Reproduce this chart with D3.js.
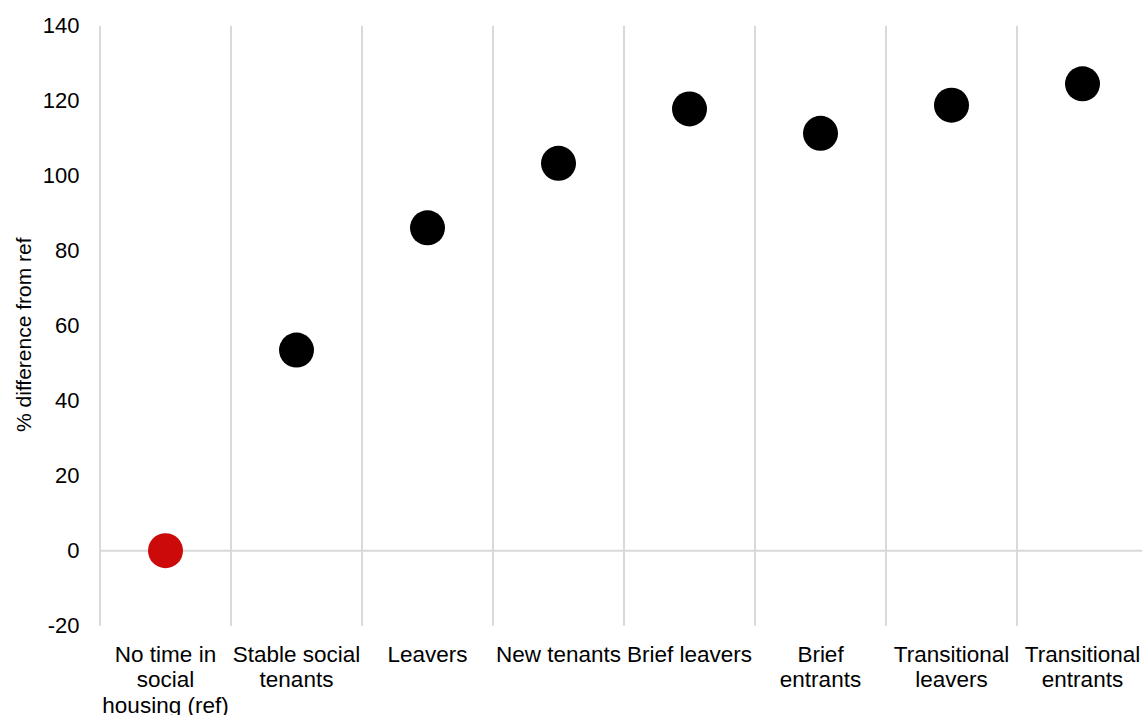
<!DOCTYPE html>
<html>
<head>
<meta charset="utf-8">
<script src="https://cdn.jsdelivr.net/npm/d3@7"></script>
<style>
  html, body { margin: 0; padding: 0; background: #fff; }
  svg { display: block; }
  text { font-family: "Liberation Sans", Arial, sans-serif; fill: #000; }
</style>
</head>
<body>
<svg id="chart" width="1142" height="715"></svg>
<script>
// ---- data ----
const categories = [
  "No time in\nsocial\nhousing (ref)",
  "Stable social\ntenants",
  "Leavers",
  "New tenants",
  "Brief leavers",
  "Brief\nentrants",
  "Transitional\nleavers",
  "Transitional\nentrants"
];
const values = [0, 53.5, 86.1, 103.3, 117.8, 111.3, 118.8, 124.5];
const isReference = [true, false, false, false, false, false, false, false];
const yTicks = [-20, 0, 20, 40, 60, 80, 100, 120, 140];
const yLabel = "% difference from ref";

// ---- layout ----
const svg = d3.select("#chart");
const plotLeft = 100, plotTop = 25.7, plotBottom = 625.7, band = 131;

const x = d3.scaleBand()
  .domain(categories)
  .range([plotLeft, plotLeft + band * categories.length])
  .paddingInner(0).paddingOuter(0);

const y = d3.scaleLinear()
  .domain([d3.min(yTicks), d3.max(yTicks)])
  .range([plotBottom, plotTop]);

// vertical gridlines at band boundaries
const bounds = categories.map(c => x(c)).concat([x.range()[1]]);
svg.append("g").selectAll("line")
  .data(bounds)
  .join("line")
  .attr("x1", d => d).attr("x2", d => d)
  .attr("y1", y(d3.max(yTicks))).attr("y2", y(d3.min(yTicks)))
  .attr("stroke", "#d9d9d9").attr("stroke-width", 2);

// zero line
svg.append("line")
  .attr("x1", plotLeft).attr("x2", x.range()[1])
  .attr("y1", y(0)).attr("y2", y(0))
  .attr("stroke", "#d9d9d9").attr("stroke-width", 2);

// y axis
const yAxis = svg.append("g")
  .attr("transform", `translate(${plotLeft},0)`)
  .call(d3.axisLeft(y).tickValues(yTicks).tickSize(0).tickPadding(20.5)
    .tickFormat(d => String(d)));
yAxis.select(".domain").remove();
yAxis.selectAll("text")
  .attr("font-family", "Liberation Sans, Arial, sans-serif")
  .attr("font-size", 22)
  .attr("fill", "#000");

// x axis labels
const xAxis = svg.append("g")
  .attr("transform", `translate(0,${plotBottom})`)
  .call(d3.axisBottom(x).tickSize(0).tickFormat(""));
xAxis.select(".domain").remove();
xAxis.selectAll(".tick").each(function(d) {
  const g = d3.select(this);
  g.select("text").remove();
  const t = g.append("text")
    .attr("text-anchor", "middle")
    .attr("font-family", "Liberation Sans, Arial, sans-serif")
    .attr("font-size", 22.5)
    .attr("fill", "#000")
    .attr("y", 36);
  d.split("\n").forEach((line, i) => {
    t.append("tspan").attr("x", 0).attr("dy", i === 0 ? 0 : 25.5).text(line);
  });
});

// y label
svg.append("text")
  .attr("transform", `translate(31,${(plotTop + plotBottom) / 2 + 9}) rotate(-90)`)
  .attr("text-anchor", "middle")
  .attr("font-size", 21)
  .text(yLabel);

// points
svg.append("g").selectAll("circle")
  .data(categories.map((c, i) => ({ c, v: values[i], ref: isReference[i] })))
  .join("circle")
  .attr("cx", d => x(d.c) + x.bandwidth() / 2)
  .attr("cy", d => y(d.v))
  .attr("r", 17.5)
  .attr("fill", d => d.ref ? "#cc0a0a" : "#000");
</script>
</body>
</html>
